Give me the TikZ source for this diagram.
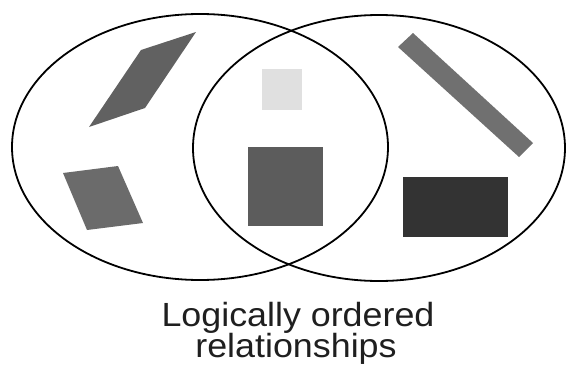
\documentclass[tikz,border=0pt]{standalone}
\usepackage{fontspec}
\usepackage{graphicx}
\setmainfont{Liberation Sans}
\begin{document}
\begin{tikzpicture}[x=1pt,y=-1pt,
  ring/.style={draw=black,line width=1.8pt},
  lbl/.style={anchor=base,inner sep=0pt,text=black!88,font=\fontsize{33.5}{40}\selectfont}]
\useasboundingbox (0,0) rectangle (566,367);
% shapes
\fill[black!62] (141,50) -- (196,32) -- (145,108) -- (89,127) -- cycle;
\fill[black!58] (63,173) -- (118,166) -- (143,223) -- (87,230) -- cycle;
\fill[black!12] (262,69) rectangle (302,110);
\fill[black!64] (248,147) rectangle (323,226);
\fill[black!56] (398,47) -- (413,33) -- (533,143) -- (519,157) -- cycle;
\fill[black!80] (403,177) rectangle (508,237);
% ellipses
\draw[ring] (200,147) ellipse [x radius=188, y radius=133];
\draw[ring] (379,148) ellipse [x radius=186, y radius=133];
% label
\node[lbl] (l1) at (298,326) {\scalebox{1.07}[1]{Logically ordered}};
\node[lbl] (l2) at (296,357) {\scalebox{1.07}[1]{relationships}};
\end{tikzpicture}
\end{document}
